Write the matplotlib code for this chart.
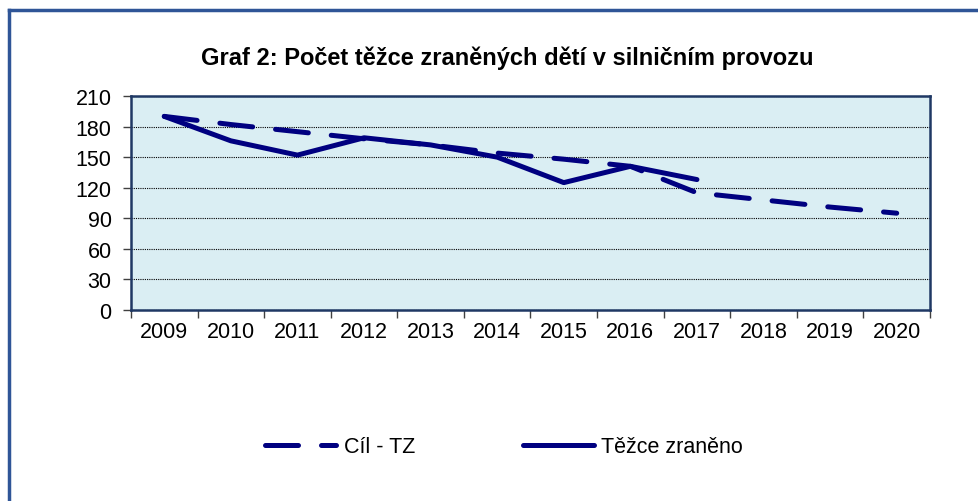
import matplotlib.pyplot as plt
from matplotlib.lines import Line2D

years = ['2009', '2010', '2011', '2012', '2013', '2014',
         '2015', '2016', '2017', '2018', '2019', '2020']
cil_tz = [190, 182, 175, 168, 162, 154, 148, 141, 115, 108, 101, 95]
tezce_zraneno = [190, 166, 152, 169, 162, 150, 125, 141, 128]

plt.rcParams['font.family'] = ['Liberation Sans', 'DejaVu Sans']

navy = '#000080'
fig = plt.figure(figsize=(9.79, 5.02), dpi=100)
ax = fig.add_axes([131 / 979, 1 - 311 / 502, 799 / 979, 214 / 502])
ax.set_facecolor('#DAEEF3')

x_all = list(range(len(years)))
ax.plot(x_all, cil_tz, color=navy, lw=3.6, dashes=(6.6, 4.6),
        dash_capstyle='round', solid_capstyle='round', label='Cíl - TZ')
ax.plot(x_all[:len(tezce_zraneno)], tezce_zraneno, color=navy, lw=3.6,
        solid_capstyle='round', solid_joinstyle='round', label='Těžce zraněno')

ax.set_xlim(-0.5, len(years) - 0.5)
ax.set_ylim(0, 210)
ax.set_yticks(range(0, 211, 30))
ax.set_xticks([i - 0.5 for i in range(len(years) + 1)])
ax.set_xticklabels([])
ax.set_xticks(x_all, minor=True)
ax.set_xticklabels(years, minor=True)
ax.tick_params(axis='x', which='minor', length=0, pad=8, labelsize=15.5)
ax.tick_params(axis='x', which='major', length=6, width=1, color='#404040')
ax.tick_params(axis='y', length=6, width=1, color='#404040', pad=8, labelsize=15.5)
ax.grid(axis='y', color='black', lw=0.8, linestyle=(0, (1, 1)))
ax.set_axisbelow(True)
for s in ax.spines.values():
    s.set_color('#1F3864')
    s.set_linewidth(1.8)

fig.text(507 / 979, 1 - 58 / 502, 'Graf 2: Počet těžce zraněných dětí v silničním provozu',
         ha='center', va='center', fontsize=17, fontweight='bold')

leg = fig.legend(loc='center', bbox_to_anchor=(504 / 979, 1 - 448 / 502), ncol=2,
                 frameon=False, fontsize=15.5, handlelength=3.3, columnspacing=5.0,
                 handletextpad=0.35)

# outer chart border (only top and left edges visible in the crop)
fig.add_artist(Line2D([9 / 979, 9 / 979], [0, 1 - 11 / 502], transform=fig.transFigure,
                      color='#2F5597', lw=2.5))
fig.add_artist(Line2D([9 / 979, 1], [1 - 11 / 502, 1 - 11 / 502], transform=fig.transFigure,
                      color='#2F5597', lw=2.5))

fig.savefig('out.png', dpi=100)
